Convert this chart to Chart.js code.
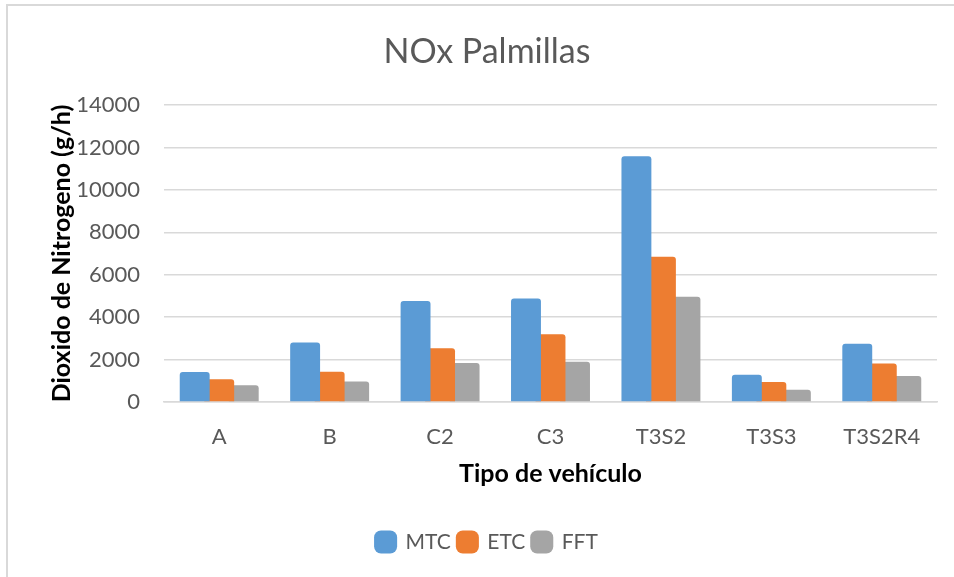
<!DOCTYPE html>
<html>
<head>
<meta charset="utf-8">
<script src="https://cdn.jsdelivr.net/npm/chart.js@4"></script>
<style>
  html, body { margin: 0; padding: 0; background: #fff; overflow: hidden; }
  #wrap { position: relative; width: 954px; height: 577px; }
  #frame {
    position: absolute; left: 6px; top: 4px; width: 1000px; height: 1000px;
    border: 2px solid #d9d9d9; pointer-events: none;
  }
</style>
</head>
<body>
<div id="wrap">
  <canvas id="nox" width="954" height="577"></canvas>
  <div id="frame"></div>
</div>
<script>
// Emisiones de NOx por tipo de vehículo
const categorias = ["A", "B", "C2", "C3", "T3S2", "T3S3", "T3S2R4"];
const mtc = [1410, 2800, 4760, 4880, 11580, 1290, 2750];
const etc = [1070, 1430, 2530, 3190, 6850, 940, 1820];
const fft = [790, 970, 1840, 1900, 4960, 580, 1220];
const ticksY = [0, 2000, 4000, 6000, 8000, 10000, 12000, 14000];

const fuente = "Lato, 'Open Sans', sans-serif";
Chart.defaults.font.family = fuente;
Chart.defaults.color = "#595959";

const ctx = document.getElementById("nox").getContext("2d");
const chart = new Chart(ctx, {
  type: "bar",
  data: {
    labels: categorias,
    datasets: [
      { label: "MTC", data: mtc, backgroundColor: "#5B9BD5" },
      { label: "ETC", data: etc, backgroundColor: "#ED7D31" },
      { label: "FFT", data: fft, backgroundColor: "#A5A5A5" },
    ],
  },
  options: {
    responsive: false,
    animation: false,
    layout: { padding: { top: 0, right: 17, bottom: 14.5, left: 37 } },
    datasets: {
      bar: {
        categoryPercentage: 0.666,
        barPercentage: 1.22,
        borderRadius: 3,
        borderSkipped: "bottom",
      },
    },
    plugins: {
      title: {
        display: true,
        text: "NOx Palmillas",
        color: "#595959",
        font: { size: 34, weight: "normal" },
        padding: { top: 31.6, bottom: 32.6 },
      },
      legend: {
        position: "bottom",
        labels: {
          font: { size: 21 },
          color: "#595959",
          boxWidth: 19,
          boxHeight: 19,
          padding: 7,
          usePointStyle: true,
          pointStyle: "rectRounded",
        },
      },
      tooltip: { enabled: false },
    },
    scales: {
      x: {
        grid: { display: false, drawTicks: false },
        border: { display: true, color: "#d9d9d9", width: 1.5 },
        ticks: { font: { size: 22 }, color: "#595959", padding: 22 },
        title: {
          display: true,
          text: "Tipo de vehículo",
          color: "#000",
          font: { size: 25, weight: "bold" },
          padding: { top: 0, bottom: 35.5 },
        },
        afterFit: (s) => { s.height = 122.5; },
      },
      y: {
        min: 0,
        max: 14000,
        afterBuildTicks: (s) => { s.ticks = ticksY.map((v) => ({ value: v })); },
        grid: { color: "#d9d9d9", lineWidth: 1.5, drawTicks: false },
        border: { display: false },
        ticks: {
          font: { size: 22 },
          color: "#595959",
          padding: 24,
          callback: (v) => String(v),
        },
        title: {
          display: true,
          text: "Dioxido de Nitrogeno (g/h)",
          color: "#000",
          font: { size: 25, weight: "bold" },
          padding: { top: 10, bottom: 0 },
        },
        afterFit: (s) => { s.width = 127; },
      },
    },
  },
});
</script>
</body>
</html>
